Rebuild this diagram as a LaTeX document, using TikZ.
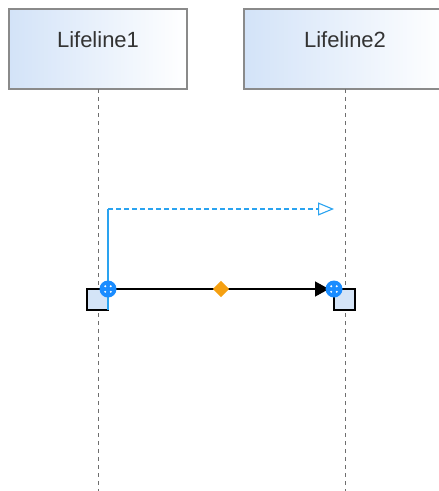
\documentclass[tikz,border=0pt]{standalone}
\usepackage{fontspec}
\setmainfont{Liberation Sans}
\usetikzlibrary{positioning,arrows.meta,shapes.geometric}
\definecolor{headL}{HTML}{D3E3F8}
\definecolor{headB}{HTML}{8A8A8A}
\definecolor{lineC}{HTML}{6E6E6E}
\definecolor{actC}{HTML}{D4E4F7}
\definecolor{selC}{HTML}{2AA3F0}
\definecolor{handC}{HTML}{1A8CFF}
\definecolor{diaC}{HTML}{F5A011}
\definecolor{darkC}{HTML}{333333}

\begin{document}
\begin{tikzpicture}[
  x=1pt, y=-1pt,
  >=Stealth,
  every node/.style={font=\rmfamily, text=darkC},
  lifebox/.style={
    draw=headB, line width=1.1pt, left color=headL, right color=white,
    minimum height=80pt, inner sep=0pt, outer sep=0pt,
    text height=15pt, text depth=19pt,
    font=\rmfamily\fontsize{22}{26}\selectfont,
  },
  lifeline/.style={lineC, line width=0.9pt, dash pattern=on 4pt off 4pt},
  actbox/.style={
    draw=black, fill=actC, line width=1.2pt,
    minimum size=21pt, inner sep=0pt, outer sep=0pt,
  },
  callflow/.style={-{Triangle[length=14pt,width=15pt]}, black, line width=1.3pt},
  selsolid/.style={selC, line width=1.2pt},
  seldash/.style={-{Triangle[open,length=16pt,width=13pt]}, selC, line width=1.1pt,
    dash pattern=on 5pt off 3pt},
  handle/.style={
    circle, fill=handC, minimum size=17pt, inner sep=0pt,
    path picture={
      \foreach \dx/\dy in {1/1,1/-1,-1/1,-1/-1}
        \fill[white] ([shift={(\dx*2.8pt,\dy*2.8pt)}]path picture bounding box.center)
          circle (1.1pt);
    },
  },
  midmark/.style={diamond, fill=diaC, minimum size=17pt, inner sep=0pt},
]
\useasboundingbox (0,0) rectangle (439,491);
\clip (0,0) rectangle (439,491);

% ── Lifeline heads ──
\node[lifebox, minimum width=178pt] (head1) at (98,49) {Lifeline1};
\node[lifebox, minimum width=202pt, right=57pt of head1] (head2) {Lifeline2};

% ── Lifeline stems ──
\coordinate (foot1) at (head1.south |- 0,491);
\coordinate (foot2) at (head2.south |- 0,491);
\draw[lifeline] (head1.south) -- (foot1);
\draw[lifeline] (head2.south) -- (foot2);

% ── Activations ──
\node[actbox, below=200pt of head1, xshift=-0.5pt] (act1) {};
\node[actbox, below=200pt of head2, xshift=-0.5pt] (act2) {};

% ── Selected path (blue) ──
\coordinate (bend) at ([yshift=80pt]act1.north east);
\coordinate (bendEnd) at (act2.north west |- bend);
\draw[selsolid] (act1.south east) -- (bend);
\draw[seldash] (bend) -- (bendEnd);

% ── Message ──
\draw[callflow, shorten >=5pt] (act1.north east) -- (act2.north west)
    node[midmark, midway] (mid) {};

% ── Handles ──
\node[handle] (h1) at (act1.north east) {};
\node[handle] (h2) at (act2.north west) {};

\end{tikzpicture}
\end{document}
